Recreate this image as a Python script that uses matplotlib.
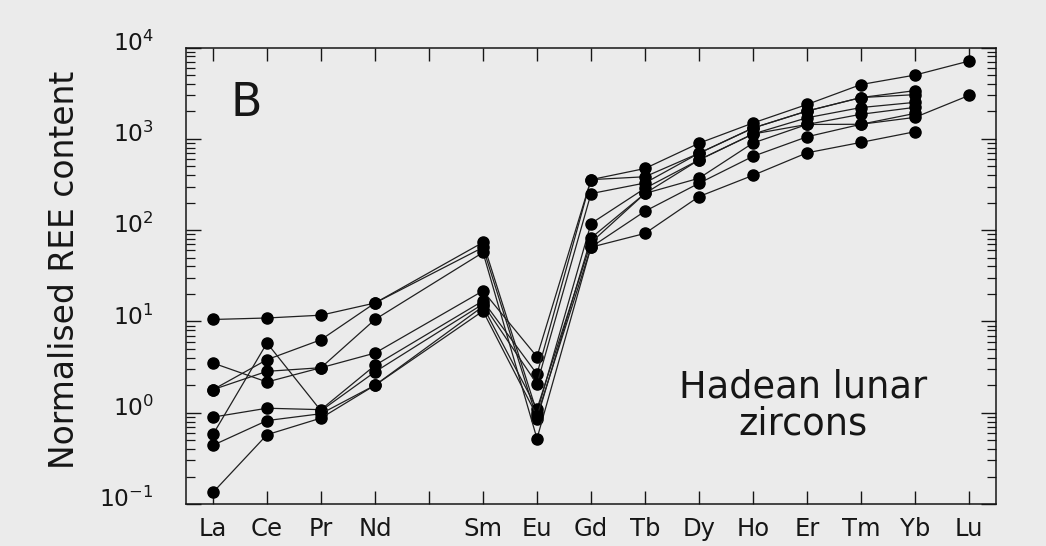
import numpy as np
import matplotlib
matplotlib.use("Agg")
import matplotlib.pyplot as plt
from matplotlib.ticker import LogLocator, NullFormatter
from matplotlib.transforms import ScaledTranslation

# Chondrite-normalised REE patterns, Hadean lunar zircons
elements = ["La", "Ce", "Pr", "Nd", "Pm", "Sm", "Eu", "Gd", "Tb", "Dy",
            "Ho", "Er", "Tm", "Yb", "Lu"]
analysed = ["La", "Ce", "Pr", "Nd", "Sm", "Eu", "Gd", "Tb", "Dy",
            "Ho", "Er", "Tm", "Yb", "Lu"]
nan = np.nan

#              La     Ce    Pr     Nd    Sm    Eu    Gd   Tb   Dy   Ho    Er    Tm    Yb    Lu
zircon_1 = [10.5,  10.9, 11.7,  15.9, 73.4, 1.00, 118, 287, 587, 1129, 1700, 2200, 2507, nan]
zircon_2 = [3.5,   2.17, 3.11,  4.5,  21.6, 4.10, 357, 473, 895, 1490, 2377, 3930, 4990, 7100]
zircon_3 = [1.79,  3.81, 6.3,   15.9, 64.6, 0.86, 82,  252, 587, 1129, 1436, 1857, 2210, nan]
zircon_4 = [1.79,  2.84, 3.11,  10.5, 56.9, 0.52, 65,  161, 326, 643,  1052, 1443, 1717, 2985]
zircon_5 = [0.895, 1.12, 1.08,  3.3,  16.8, 2.65, 357, 384, 695, 1312, 2013, 2830, 3370, nan]
zircon_6 = [0.578, 5.8,  1.05,  2.8,  15.5, 2.06, 251, 328, 695, 1312, 2013, 2830, 3045, nan]
zircon_7 = [0.44,  0.82, 0.975, 2.0,  14.6, 1.10, 73,  252, 370, 899,  1436, 1443, 1898, nan]
zircon_8 = [0.134, 0.574, 0.873, 2.0, 13.0, 0.92, 65,  92,  233, 398,  702,  914,  1196, nan]
zircons = [zircon_1, zircon_2, zircon_3, zircon_4,
           zircon_5, zircon_6, zircon_7, zircon_8]

y_ticks = [1e-1, 1e0, 1e1, 1e2, 1e3, 1e4]
y_tick_labels = ["$10^{-1}$", "$10^{0}$", "$10^{1}$", "$10^{2}$", "$10^{3}$", "$10^{4}$"]

plt.rcParams["font.family"] = ["DejaVu Sans"]
plt.rcParams["mathtext.fontset"] = "dejavusans"

paper = "#ebebeb"
ink = "#161616"

fig = plt.figure(figsize=(10.46, 5.46), dpi=100, facecolor=paper)
ax = fig.add_axes([0.1778, 0.0769, 0.7744, 0.8361])
ax.set_facecolor(paper)

xpos = np.array([elements.index(e) for e in analysed])
for z in zircons:
    v = np.array(z, dtype=float)
    ok = ~np.isnan(v)
    ax.plot(xpos[ok], v[ok], "-", color="#202020", lw=0.9, marker="o", ms=8,
            mfc="black", mec="black", zorder=3)

ax.set_yscale("log")
ax.set_ylim(0.1, 1e4)
ax.set_xlim(-0.5, 14.5)

ax.set_xticks(range(len(elements)))
ax.set_xticklabels([e if e != "Pm" else "" for e in elements])
ax.set_yticks(y_ticks)
ax.set_yticklabels(y_tick_labels)
ax.yaxis.set_minor_locator(LogLocator(base=10, subs=np.arange(2, 10)))
ax.yaxis.set_minor_formatter(NullFormatter())

ax.tick_params(axis="both", which="both", direction="in", top=True,
               right=True, color=ink, labelcolor=ink)
ax.tick_params(axis="y", which="major", length=11, width=1.0, pad=23,
               labelsize=16.8)
ax.tick_params(axis="y", which="minor", length=6.5, width=0.9)
ax.tick_params(axis="x", which="major", length=9.5, width=1.0, pad=9,
               labelsize=17.5)
ax.tick_params(axis="x", which="minor", bottom=False, top=False)

# lift the decade labels slightly above their ticks
lift = ScaledTranslation(0, 5 / 72, fig.dpi_scale_trans)
for lab in ax.get_yticklabels():
    lab.set_transform(lab.get_transform() + lift)

for s in ax.spines.values():
    s.set_linewidth(1.1)
    s.set_color(ink)

ax.set_ylabel("Normalised REE content", fontsize=23.7, color=ink)
ax.yaxis.set_label_coords(-0.129, 0.513)

ax.text(0.055, 0.851, "B", transform=ax.transAxes, fontsize=33,
        ha="left", va="baseline", color=ink)
ax.text(0.7617, 0.2325, "Hadean lunar", transform=ax.transAxes, fontsize=26.5,
        ha="center", va="baseline", color=ink)
ax.text(0.7617, 0.1524, "zircons", transform=ax.transAxes, fontsize=26.5,
        ha="center", va="baseline", color=ink)

fig.savefig("out.png", dpi=100, facecolor=paper)
